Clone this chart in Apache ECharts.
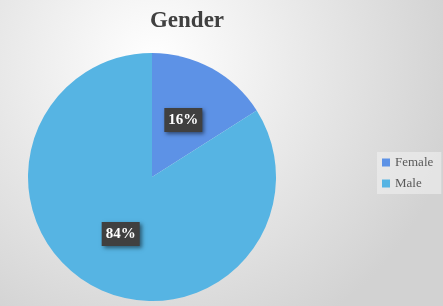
<!DOCTYPE html>
<html>
<head>
<meta charset="utf-8">
<script src="https://cdn.jsdelivr.net/npm/echarts@6/dist/echarts.min.js"></script>
<style>html,body{margin:0;padding:0;}#c{width:443px;height:306px;}</style>
</head>
<body>
<div id="c"></div>
<script>
var categories = ['Female', 'Male'];
var values = [16, 84];
var colors = ['#5D92E6', '#56B4E3'];

var chart = echarts.init(document.getElementById('c'), null, {renderer: 'canvas'});
chart.setOption({
  animation: false,
  backgroundColor: {
    type: 'radial', x: 0.35, y: 0.2, r: 1.0,
    colorStops: [{offset: 0, color: '#ffffff'}, {offset: 1, color: '#d2d2d2'}]
  },
  title: {
    text: 'Gender', left: 182, textAlign: 'center', top: 5,
    textStyle: {fontFamily: 'Liberation Serif', fontWeight: 'bold', fontSize: 23, color: '#404040'}
  },
  legend: {
    orient: 'vertical', left: 377, top: 152,
    itemWidth: 8, itemHeight: 8, itemGap: 8, icon: 'rect',
    backgroundColor: 'rgba(240,240,240,0.6)', padding: [4, 8, 4, 5],
    textStyle: {fontFamily: 'Liberation Serif', fontSize: 13, color: '#595959', padding: [0, 0, 0, 0]},
    data: categories
  },
  series: [{
    type: 'pie', center: [152, 177], radius: 124, startAngle: 90, clockwise: true,
    data: categories.map(function (c, i) { return {name: c, value: values[i], itemStyle: {color: colors[i]}}; }),
    label: {
      position: 'inside', formatter: '{c}%',
      fontFamily: 'Liberation Serif', fontWeight: 'bold', fontSize: 15, color: '#ffffff',
      backgroundColor: '#404040', padding: [5, 4, 4, 4],
      shadowColor: 'rgba(0,0,0,0.5)', shadowBlur: 4, shadowOffsetX: 2, shadowOffsetY: 2
    },
    labelLine: {show: false},
    emphasis: {disabled: true}
  }]
});
</script>
</body>
</html>
